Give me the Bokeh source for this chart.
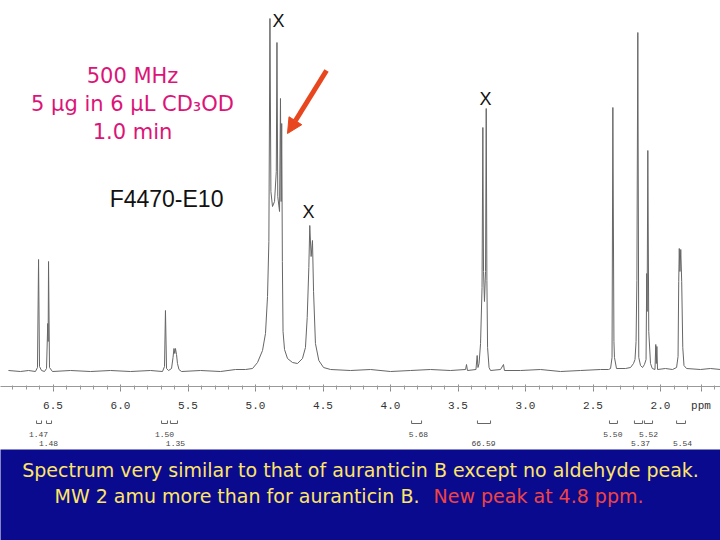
from bokeh.plotting import figure
from bokeh.models import Range1d, FixedTicker, Arrow, NormalHead, PrintfTickFormatter
from bokeh.layouts import column
from bokeh.embed import file_html
from bokeh.resources import INLINE
from bokeh.core.properties import value

# ---- spectrum (ppm, relative intensity) ----
ppm = [6.830, 6.741, 6.681, 6.630, 6.615, 6.607, 6.600, 6.585, 6.563, 6.548,
       6.539, 6.536, 6.533, 6.526, 6.504, 6.370, 6.222, 6.074, 5.926, 5.778,
       5.689, 5.674, 5.667, 5.659, 5.644, 5.622, 5.611, 5.604, 5.598, 5.593,
       5.585, 5.578, 5.567, 5.548, 5.407, 5.259, 5.148, 5.074, 5.022, 4.985,
       4.948, 4.926, 4.911, 4.901, 4.893, 4.886, 4.874, 4.859, 4.846, 4.841,
       4.835, 4.822, 4.815, 4.810, 4.806, 4.801, 4.796, 4.785, 4.763, 4.726,
       4.689, 4.652, 4.630, 4.617, 4.605, 4.598, 4.588, 4.578, 4.570, 4.556,
       4.531, 4.496, 4.444, 4.296, 4.148, 4.000, 3.852, 3.704, 3.556, 3.444,
       3.437, 3.430, 3.367, 3.358, 3.352, 3.344, 3.333, 3.322, 3.316, 3.311,
       3.304, 3.296, 3.291, 3.286, 3.281, 3.270, 3.259, 3.185, 3.163, 3.156,
       3.037, 2.889, 2.741, 2.593, 2.444, 2.385, 2.370, 2.359, 2.353, 2.345,
       2.341, 2.326, 2.259, 2.222, 2.200, 2.189, 2.181, 2.175, 2.168, 2.161,
       2.148, 2.133, 2.119, 2.107, 2.102, 2.099, 2.094, 2.087, 2.074, 2.061,
       2.041, 2.035, 2.031, 2.027, 2.022, 1.963, 1.911, 1.881, 1.870, 1.865,
       1.861, 1.856, 1.850, 1.843, 1.835, 1.826, 1.807, 1.704, 1.630, 1.556]
intensity = [1, 0, 1, 0, 4, 112, 5, 1, 0, 3,
             48, 30, 110, 4, 0, 1, 0, 1, 0, 1,
             0, 5, 61, 3, 1, 3, 14, 23, 18, 23,
             17, 8, 2, 0, 1, 0, 2, 2, 3, 9,
             21, 38, 75, 130, 353, 180, 165, 170, 200, 329,
             175, 160, 273, 170, 248, 110, 40, 22, 13, 9,
             8, 13, 24, 54, 104, 146, 115, 131, 80, 28,
             11, 4, 2, 1, 2, 0, 1, 2, 1, 2,
             7, 1, 2, 16, 4, 8, 28, 84, 244, 100,
             70, 100, 263, 91, 24, 4, 1, 2, 7, 1,
             1, 2, 0, 1, 2, 2, 3, 14, 264, 30,
             14, 3, 3, 4, 8, 12, 30, 91, 339, 14,
             6, 4, 7, 12, 98, 60, 221, 40, 8, 3,
             2, 27, 8, 25, 2, 3, 2, 4, 15, 90,
             123, 100, 122, 90, 24, 6, 3, 2, 3, 2]

# ---- axis ticks ----
tick_ppm = [6.5, 6.0, 5.5, 5.0, 4.5, 4.0, 3.5, 3.0, 2.5, 2.0, 1.7]
tick_overrides = {1.7: "ppm"}
minor_ppm = [round(6.8 - 0.1 * i, 1) for i in range(53)]

# ---- integrals ----
int_start = [6.622, 6.548, 5.696, 5.630, 3.844, 3.356, 2.378, 2.193, 2.119, 1.881]
int_end = [6.585, 6.511, 5.652, 5.578, 3.770, 3.259, 2.319, 2.133, 2.059, 1.815]
int_label_ppm = [6.607, 6.533, 5.674, 5.593, 3.793, 3.311, 2.353, 2.148, 2.089, 1.837]
int_values = ["1.47", "1.48", "1.50", "1.35", "5.68", "66.59", "5.50", "5.37", "5.52", "5.54"]
int_row = [0, 1, 0, 1, 0, 1, 0, 1, 0, 1]

# ---- annotations ----
info_lines = ["500 MHz", "5 \u00b5g in 6 \u00b5L CD\u2083OD", "1.0 min"]
sample_name = "F4470-E10"
x_marks_ppm = [4.830, 4.607, 3.296]
x_marks_h = [351, 160, 273]
caption1 = "Spectrum very similar to that of auranticin B except no aldehyde peak."
caption2a = "MW 2 amu more than for auranticin B."
caption2b = "New peak at 4.8 ppm."

X_RANGE = Range1d(6.8889, 1.5556)

p = figure(frame_width=720, frame_height=386, x_range=X_RANGE, y_range=Range1d(-15, 371),
           output_backend="svg", toolbar_location=None, y_axis_location=None,
           min_border=0, min_border_bottom=26)
p.outline_line_color = None
p.grid.visible = False
p.background_fill_color = "white"
p.border_fill_color = "white"

p.line(ppm, intensity, line_color="#666666", line_width=1)

ax = p.xaxis[0]
ax.ticker = FixedTicker(ticks=tick_ppm, minor_ticks=minor_ppm)
ax.formatter = PrintfTickFormatter(format="%.1f")
ax.major_label_overrides = tick_overrides
ax.axis_line_color = "#999999"
ax.major_tick_line_color = "#888888"
ax.minor_tick_line_color = "#999999"
ax.major_tick_in = 2
ax.major_tick_out = 5
ax.minor_tick_in = 1
ax.minor_tick_out = 3
ax.major_label_standoff = 8
ax.major_label_text_font = "Liberation Mono"
ax.major_label_text_font_size = "11px"
ax.major_label_text_color = "#333333"

p.text(x=[5.911, 5.911, 5.911], y=[296, 268, 240], text=info_lines,
       text_font=value("DejaVu Sans"), text_font_size=value("21px"),
       text_color="#DC1478", text_align="center", text_baseline="middle")
p.text(x=[5.659], y=[173], text=[sample_name], text_font=value("Liberation Sans"),
       text_font_size=value("23px"), text_color="#111111",
       text_align="center", text_baseline="middle")
p.text(x=x_marks_ppm, y=x_marks_h, text=["X"] * 3, text_font=value("Liberation Sans"),
       text_font_size=value("18px"), text_color="#111111",
       text_align="center", text_baseline="middle")
p.add_layout(Arrow(end=NormalHead(size=15, fill_color="#E8461E", line_color="#E8461E"),
                   x_start=4.474, y_start=301, x_end=4.763, y_end=238,
                   line_width=5, line_color="#E8461E"))

# ---- lower panel: integrals + caption band ----
q = figure(width=720, height=128, x_range=X_RANGE, y_range=Range1d(540, 412),
           output_backend="svg", toolbar_location=None, x_axis_location=None,
           y_axis_location=None, min_border=0)
q.outline_line_color = None
q.grid.visible = False

q.segment(x0=int_start, y0=[421] * len(int_start), x1=int_end, y1=[421] * len(int_end),
          line_color="#666666", line_width=1)
q.segment(x0=int_start, y0=[418] * len(int_start), x1=int_start, y1=[421] * len(int_start),
          line_color="#666666", line_width=1)
q.segment(x0=int_end, y0=[418] * len(int_end), x1=int_end, y1=[421] * len(int_end),
          line_color="#666666", line_width=1)
q.text(x=int_label_ppm, y=[432 if r == 0 else 441 for r in int_row], text=int_values,
       text_font=value("Liberation Mono"), text_font_size=value("8px"),
       text_color="#444444", text_align="center", text_baseline="middle")

q.quad(left=[7.5], right=[1.0], top=[447], bottom=[545], fill_color="#0A0A8F", line_color=None)
q.text(x=[4.222], y=[467], text=[caption1], text_font=value("DejaVu Sans"),
       text_font_size=value("19px"), text_color="#FFE566",
       text_align="center", text_baseline="middle")
q.text(x=[3.785], y=[493], text=[caption2a], text_font=value("DejaVu Sans"),
       text_font_size=value("19px"), text_color="#FFE566",
       text_align="right", text_baseline="middle")
q.text(x=[3.681], y=[493], text=[caption2b], text_font=value("DejaVu Sans"),
       text_font_size=value("19px"), text_color="#F04444",
       text_align="left", text_baseline="middle")

layout = column(p, q, spacing=0)
open("out.html", "w").write(file_html(layout, INLINE))
